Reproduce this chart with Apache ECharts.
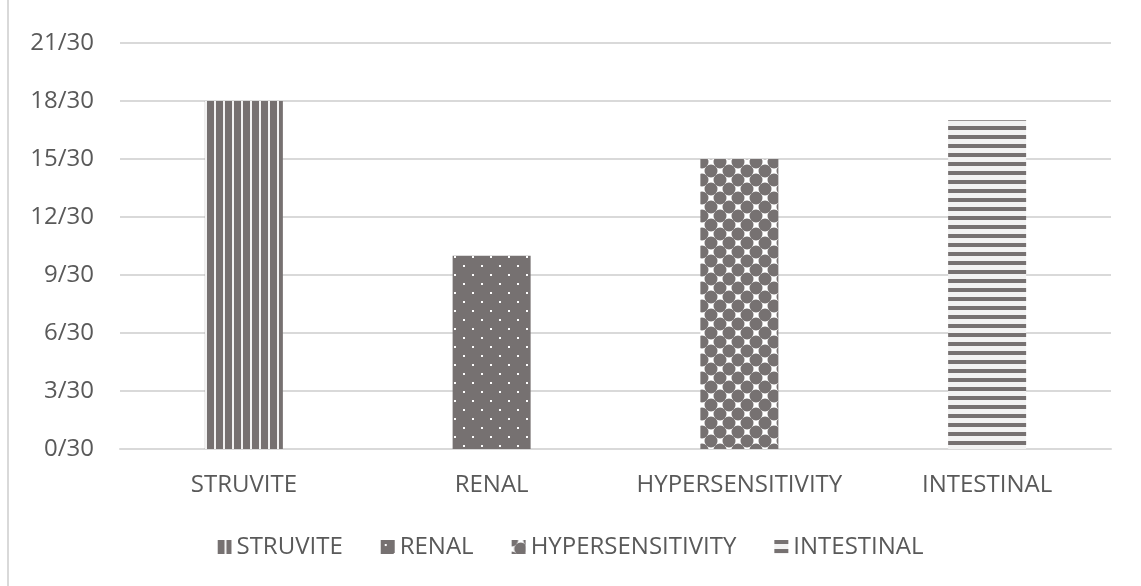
<!DOCTYPE html>
<html>
<head>
<meta charset="utf-8">
<script src="https://cdn.jsdelivr.net/npm/echarts@6/dist/echarts.min.js"></script>
<style>
  html, body { margin: 0; padding: 0; background: #fff; }
  #main { width: 1141px; height: 586px; position: relative; }
  .frame { position: absolute; left: 7px; top: 0; bottom: 0; width: 2px; background: #d9d9d9; }
</style>
</head>
<body>
<div id="main"></div>
<div class="frame"></div>
<script>
// 数据
var categories = ['STRUVITE', 'RENAL', 'HYPERSENSITIVITY', 'INTESTINAL'];
var values = [18, 10, 15, 17];
var denominator = 30;
var yTicks = { min: 0, max: 21, interval: 3 };

var gray = '#767171';
var light = '#f2f2f2';

// 图案
function makeCanvas(w, h, draw) {
    var c = document.createElement('canvas');
    c.width = w; c.height = h;
    draw(c.getContext('2d'));
    return c;
}
var vStripes = makeCanvas(9, 9, function (ctx) {
    ctx.fillStyle = light; ctx.fillRect(0, 0, 9, 9);
    ctx.fillStyle = gray; ctx.fillRect(0, 0, 7, 9);
});
var dots = makeCanvas(18, 18, function (ctx) {
    ctx.fillStyle = gray; ctx.fillRect(0, 0, 18, 18);
    ctx.fillStyle = '#ffffff';
    ctx.fillRect(4, 4, 2, 2);
    ctx.fillRect(13, 13, 2, 2);
});
var circles = makeCanvas(18, 18, function (ctx) {
    ctx.fillStyle = '#ffffff'; ctx.fillRect(0, 0, 18, 18);
    ctx.fillStyle = gray;
    [[0, 0], [18, 0], [0, 18], [18, 18], [9, 9]].forEach(function (p) {
        ctx.beginPath();
        ctx.arc(p[0], p[1], 6.5, 0, Math.PI * 2);
        ctx.fill();
    });
});
var hStripes = makeCanvas(9, 9, function (ctx) {
    ctx.fillStyle = light; ctx.fillRect(0, 0, 9, 9);
    ctx.fillStyle = gray; ctx.fillRect(0, 0, 9, 4);
});
var patterns = [vStripes, dots, circles, hStripes];

var myChart = echarts.init(document.getElementById('main'));

var series = categories.map(function (name, i) {
    var data = categories.map(function (c, j) { return j === i ? values[i] : null; });
    return {
        name: name,
        type: 'bar',
        barWidth: 78,
        barGap: '-100%',
        data: data,
        itemStyle: { color: { image: patterns[i], repeat: 'repeat' } }
    };
});

var option = {
    animation: false,
    textStyle: { fontFamily: 'Open Sans' },
    grid: { left: 120, right: 30, top: 43, bottom: 137 },
    legend: {
        data: categories,
        bottom: 22,
        left: 'center',
        icon: 'rect',
        itemWidth: 14,
        itemHeight: 14,
        itemGap: 38,
        textStyle: { color: '#595959', fontSize: 24, fontFamily: 'Open Sans' }
    },
    xAxis: {
        type: 'category',
        data: categories,
        axisLine: { lineStyle: { color: '#d9d9d9', width: 2 } },
        axisTick: { show: false },
        axisLabel: { color: '#595959', fontSize: 24, margin: 24, interval: 0 }
    },
    yAxis: {
        type: 'value',
        min: yTicks.min,
        max: yTicks.max,
        interval: yTicks.interval,
        axisLine: { show: false },
        axisTick: { show: false },
        splitLine: { lineStyle: { color: '#d9d9d9', width: 2 } },
        axisLabel: {
            color: '#595959', fontSize: 24, margin: 26,
            formatter: function (v) { return v + '/' + denominator; }
        }
    },
    series: series
};

myChart.setOption(option);
</script>
</body>
</html>
